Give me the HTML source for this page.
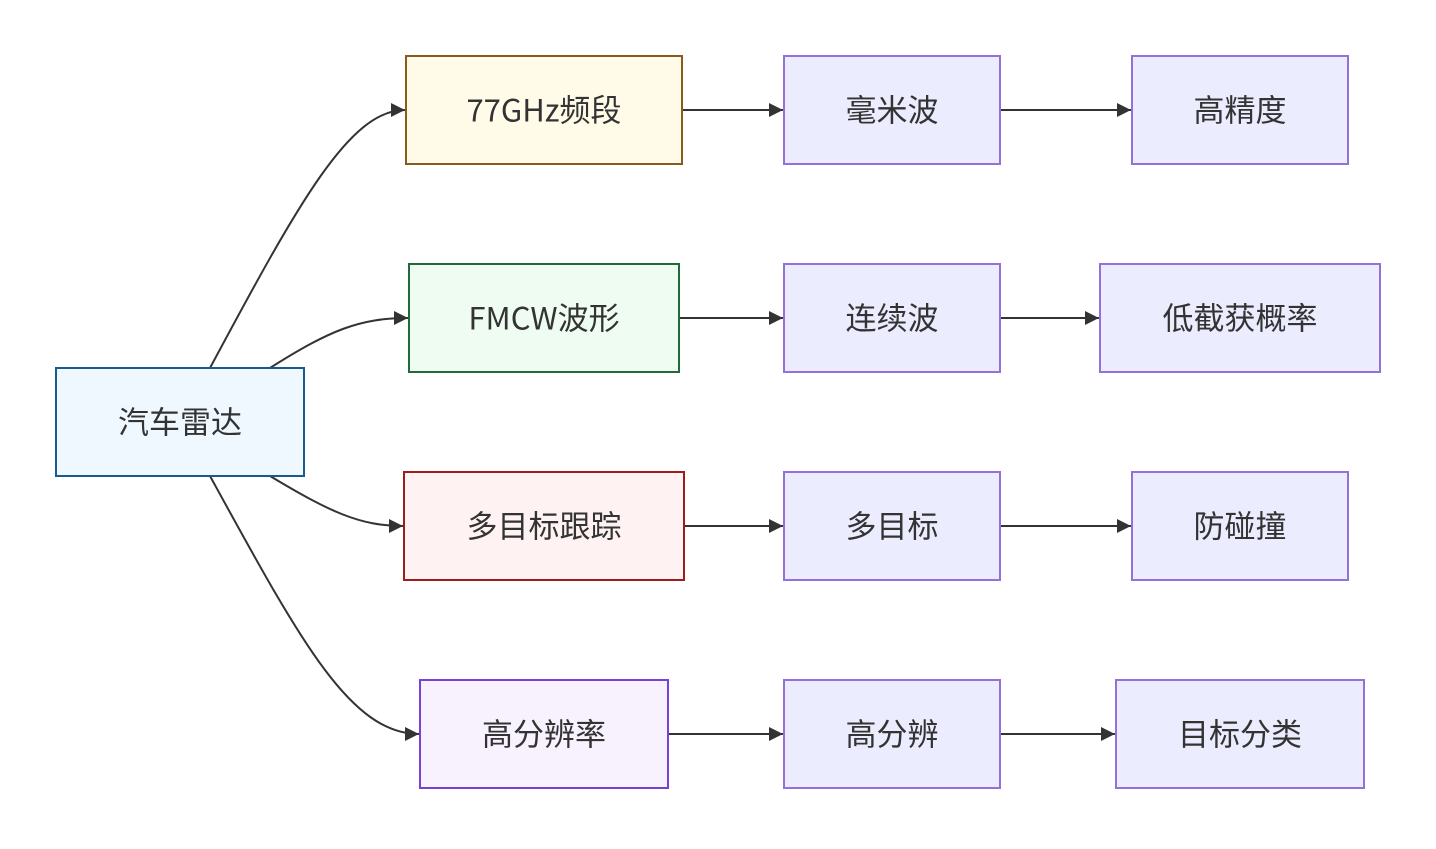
<!DOCTYPE html>
<html><head><meta charset="utf-8"><style>
html,body{margin:0;padding:0;background:#fff;}
svg text{font-family:"Noto Sans CJK SC","Liberation Sans",sans-serif;font-size:31px;fill:#333;text-anchor:middle;dominant-baseline:central;}
</style></head><body>
<svg width="1436" height="844" viewBox="0 0 1436 844" xmlns="http://www.w3.org/2000/svg">
<defs><marker id="a" viewBox="0 0 10 10" refX="10" refY="5" markerWidth="14" markerHeight="14" markerUnits="userSpaceOnUse" orient="auto"><path d="M0,0L10,5L0,10z" fill="#333"/></marker></defs>
<g fill="none" stroke="#333" stroke-width="2">
<path d="M210,368 C300,200 350,110 405,110" marker-end="url(#a)"/>
<path d="M270,368 C330,330 360,318 408,318" marker-end="url(#a)"/>
<path d="M270,476 C330,512 360,526 403,526" marker-end="url(#a)"/>
<path d="M210,476 C300,640 350,734 419,734" marker-end="url(#a)"/>
<path d="M682,110H783" marker-end="url(#a)"/>
<path d="M1000,110H1131" marker-end="url(#a)"/>
<path d="M679,318H783" marker-end="url(#a)"/>
<path d="M1000,318H1099" marker-end="url(#a)"/>
<path d="M684,526H783" marker-end="url(#a)"/>
<path d="M1000,526H1131" marker-end="url(#a)"/>
<path d="M668,734H783" marker-end="url(#a)"/>
<path d="M1000,734H1115" marker-end="url(#a)"/>
</g>
<g stroke-width="2">
<rect x="56" y="368" width="248" height="108" fill="#f0f8ff" stroke="#1a5a8a"/>
<rect x="406" y="56" width="276" height="108" fill="#fffbe8" stroke="#8a5a1a"/>
<rect x="409" y="264" width="270" height="108" fill="#effcf2" stroke="#1f6b3a"/>
<rect x="404" y="472" width="280" height="108" fill="#fff2f2" stroke="#a01c1c"/>
<rect x="420" y="680" width="248" height="108" fill="#f8f2ff" stroke="#7a3fd6"/>
<g fill="#ececff" stroke="#9370db">
<rect x="784" y="56" width="216" height="108"/>
<rect x="784" y="264" width="216" height="108"/>
<rect x="784" y="472" width="216" height="108"/>
<rect x="784" y="680" width="216" height="108"/>
<rect x="1132" y="56" width="216" height="108"/>
<rect x="1100" y="264" width="280" height="108"/>
<rect x="1132" y="472" width="216" height="108"/>
<rect x="1116" y="680" width="248" height="108"/>
</g></g>
<text x="180" y="420">汽车雷达</text>
<text x="544" y="108">77GHz频段</text>
<text x="544" y="316">FMCW波形</text>
<text x="544" y="524">多目标跟踪</text>
<text x="544" y="732">高分辨率</text>
<text x="892" y="108">毫米波</text>
<text x="892" y="316">连续波</text>
<text x="892" y="524">多目标</text>
<text x="892" y="732">高分辨</text>
<text x="1240" y="108">高精度</text>
<text x="1240" y="316">低截获概率</text>
<text x="1240" y="524">防碰撞</text>
<text x="1240" y="732">目标分类</text>
</svg>
</body></html>
